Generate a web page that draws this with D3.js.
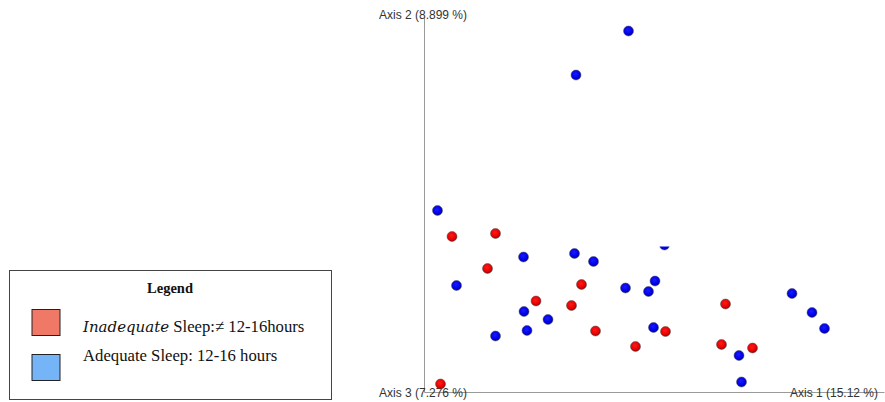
<!DOCTYPE html>
<html>
<head>
<meta charset="utf-8">
<script src="https://cdn.jsdelivr.net/npm/d3@7/dist/d3.min.js"></script>
<style>
  body { margin: 0; background: #fff; }
  svg { display: block; }
</style>
</head>
<body>
<svg id="chart" width="885" height="402"></svg>
<script>
// PCoA scores (Axis 1, Axis 2) per infant, grouped by sleep adequacy
const adequateX = [40.8, 30.3, 2.6, 19.8, 30.0, 33.8, 6.4, 40.2, 19.9, 24.7, 20.5, 14.2,
                   48.0, 46.1, 44.8, 73.5, 77.5, 80.0, 45.8, 62.9, 63.4];
const adequateY = [72.3, 63.5, 36.4, 27.1, 27.8, 26.2, 21.4, 20.9, 16.2, 14.6, 12.4, 11.3,
                   29.5, 22.3, 20.2, 19.8, 16.0, 12.8, 13.0, 7.4, 2.1];
const inadequateX = [5.5, 14.2, 12.6, 31.4, 22.3, 29.4, 34.2, 3.2, 60.2, 48.2, 42.2, 59.4, 65.6];
const inadequateY = [31.2, 31.8, 24.8, 21.6, 18.3, 17.4, 12.3, 1.7, 17.7, 12.2, 9.2, 9.6, 8.9];

const axisLabels = ["Axis 1 (15.12 %)", "Axis 2 (8.899 %)", "Axis 3 (7.276 %)"];
const legendTitle = "Legend";
const legendItems = ["Inadequate", "Adequate"];

const svg = d3.select("#chart");

const x = d3.scaleLinear().domain([0, 92]).range([424.5, 884.5]);
const y = d3.scaleLinear().domain([0, 76]).range([392.5, 12.5]);

// axes drawn as plain lines from the origin
svg.append("line")
  .attr("x1", x(0)).attr("x2", x(92))
  .attr("y1", y(0)).attr("y2", y(0))
  .attr("stroke", "#9a9a9a").attr("stroke-width", 1);
svg.append("line")
  .attr("x1", x(0)).attr("x2", x(0))
  .attr("y1", y(0)).attr("y2", y(75))
  .attr("stroke", "#9a9a9a").attr("stroke-width", 1);

const labelFont = "'Liberation Sans', Arial, sans-serif";
svg.append("text").attr("x", 379).attr("y", 19)
  .attr("font-family", labelFont).attr("font-size", 12).attr("fill", "#333")
  .text(axisLabels[1]);
svg.append("text").attr("x", 379).attr("y", 397)
  .attr("font-family", labelFont).attr("font-size", 12).attr("fill", "#333")
  .text(axisLabels[2]);
svg.append("text").attr("x", 790).attr("y", 397)
  .attr("font-family", labelFont).attr("font-size", 12).attr("fill", "#333")
  .text(axisLabels[0]);

const adequate = adequateX.map((v, i) => ({ x: v, y: adequateY[i] }));
const inadequate = inadequateX.map((v, i) => ({ x: v, y: inadequateY[i] }));

const grad = svg.append("defs");
function sphere(id, light, base, dark) {
  const g = grad.append("radialGradient").attr("id", id)
    .attr("cx", "45%").attr("cy", "40%").attr("r", "60%");
  g.append("stop").attr("offset", "0%").attr("stop-color", light);
  g.append("stop").attr("offset", "70%").attr("stop-color", base);
  g.append("stop").attr("offset", "100%").attr("stop-color", dark);
}
sphere("blueDot", "#1a1aff", "#0000e6", "#00008a");
sphere("redDot", "#ff1a1a", "#e60000", "#8a0000");

const pts = svg.append("g");
pts.selectAll("circle.adequate").data(adequate).join("circle")
  .attr("class", "adequate")
  .attr("cx", d => x(d.x)).attr("cy", d => y(d.y)).attr("r", 5)
  .attr("fill", "url(#blueDot)").attr("stroke", "#555").attr("stroke-width", 0.5);
pts.selectAll("circle.inadequate").data(inadequate).join("circle")
  .attr("class", "inadequate")
  .attr("cx", d => x(d.x)).attr("cy", d => y(d.y)).attr("r", 5)
  .attr("fill", "url(#redDot)").attr("stroke", "#555").attr("stroke-width", 0.5);

// white band hiding the upper part of the point at index 12
const hidden = adequate[12];
svg.append("rect")
  .attr("x", x(hidden.x) - 8).attr("y", y(hidden.y) - 8)
  .attr("width", 16).attr("height", 9.5)
  .attr("fill", "#fff");

// legend box
const lg = svg.append("g");
lg.append("rect").attr("x", 9.5).attr("y", 270.5).attr("width", 322).attr("height", 129)
  .attr("fill", "#fff").attr("stroke", "#444").attr("stroke-width", 1);
lg.append("text").attr("x", 170).attr("y", 293)
  .attr("text-anchor", "middle")
  .attr("font-family", "'Liberation Serif', 'Times New Roman', serif")
  .attr("font-weight", "bold").attr("font-size", 14.5).attr("fill", "#111")
  .text(legendTitle);

const swatchColors = ["#f07866", "#74b4f7"];
const rowY = [309.5, 354.5];
lg.selectAll("rect.sw").data(swatchColors).join("rect")
  .attr("class", "sw")
  .attr("x", 32).attr("y", (d, i) => rowY[i])
  .attr("width", 28).attr("height", 26)
  .attr("fill", d => d).attr("stroke", "#222").attr("stroke-width", 1);

const serif = "'Liberation Serif', 'Times New Roman', serif";
const t1 = lg.append("text").attr("x", 83).attr("y", 332)
  .attr("font-family", serif).attr("font-size", 16.7).attr("fill", "#111");
t1.append("tspan").attr("font-style", "italic")
  .attr("font-family", "'DejaVu Serif', serif").attr("font-size", 15)
  .text(legendItems[0]);
t1.append("tspan").text(" Sleep:\u2260 12-16hours");
lg.append("text").attr("x", 83).attr("y", 361)
  .attr("font-family", serif).attr("font-size", 16.7).attr("fill", "#111")
  .text(legendItems[1] + " Sleep: 12-16 hours");
</script>
</body>
</html>
